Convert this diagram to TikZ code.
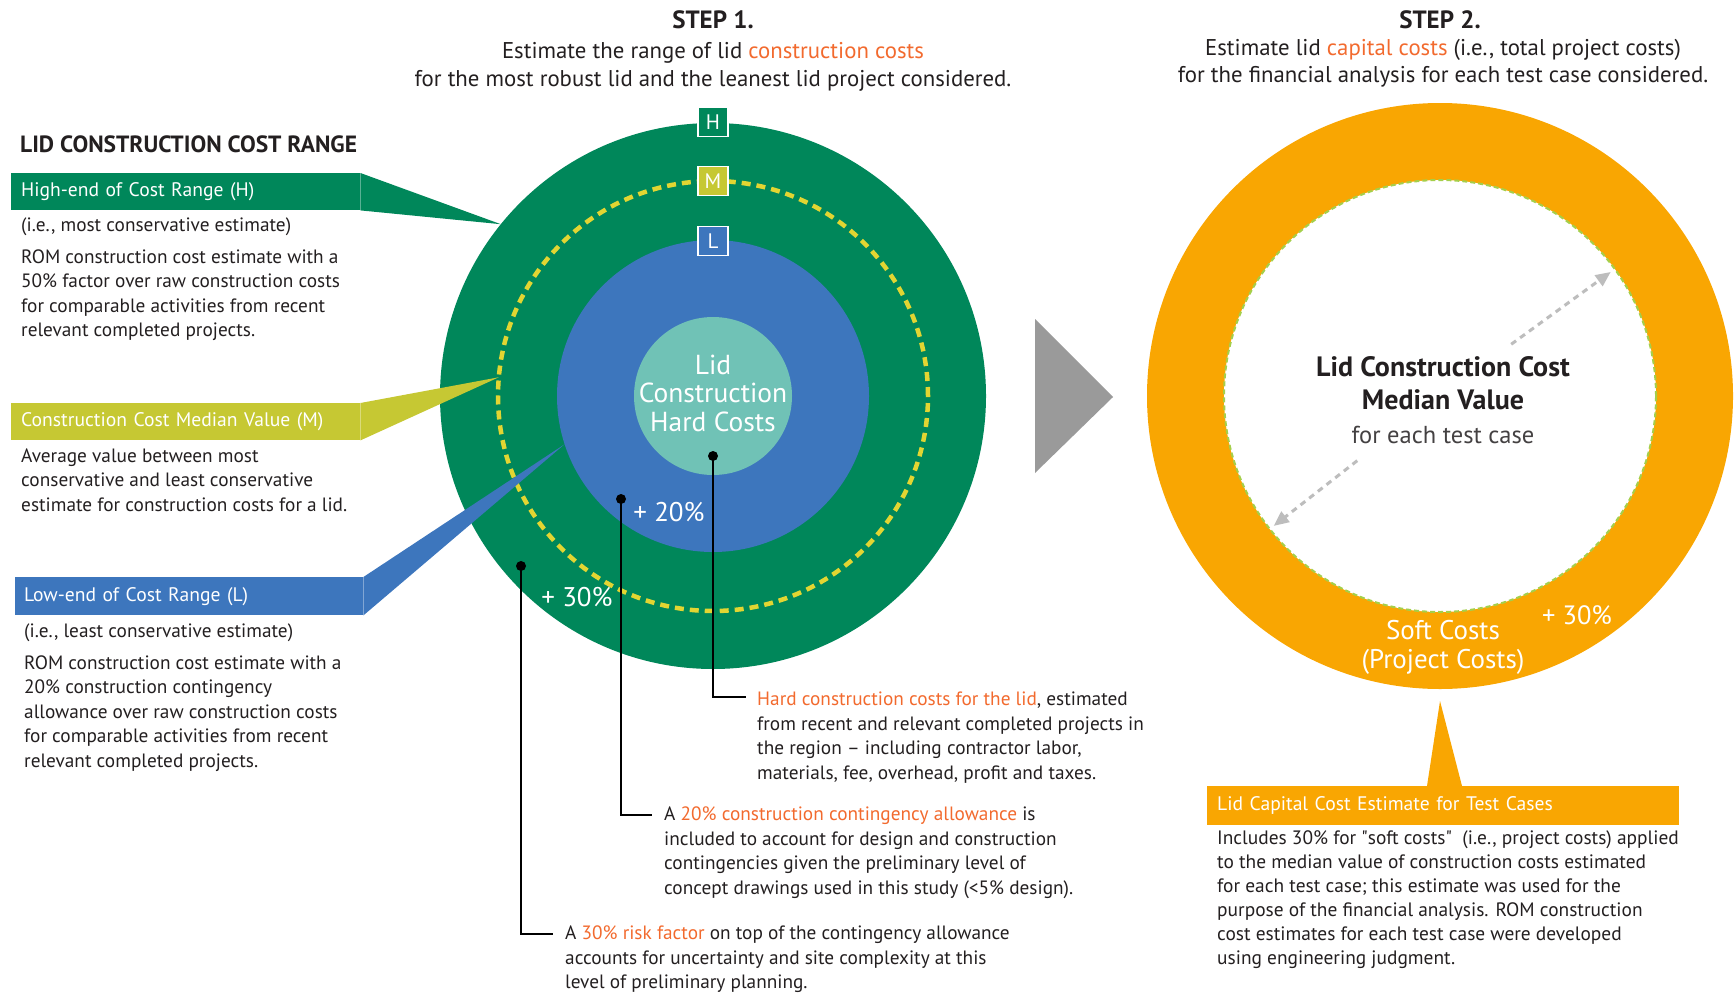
\documentclass[tikz,border=0pt]{standalone}
\usepackage{fontspec}
\setmainfont{PT Sans}
\usepackage{tikz}
\usetikzlibrary{shapes,arrows.meta}

\definecolor{hiGreen}{HTML}{00875A}
\definecolor{loBlue}{HTML}{3D76BD}
\definecolor{midLime}{HTML}{C6C833}
\definecolor{dashYellow}{HTML}{E2D532}
\definecolor{hardTeal}{HTML}{70C2B6}
\definecolor{softOrange}{HTML}{F9A602}
\definecolor{keyOrange}{HTML}{F26A2E}
\definecolor{arrowGray}{HTML}{9A9A9A}
\definecolor{gaugeGray}{HTML}{BDBDBD}
\definecolor{ringGreen}{HTML}{A5CF4A}
\definecolor{inkDark}{HTML}{231F20}

\newcommand{\hilite}[1]{\textcolor{keyOrange}{#1}}

\begin{document}
\begin{tikzpicture}[x=1pt,y=-1pt]
		\tikzstyle{ink}=[text=inkDark,inner sep=0pt]
		\tikzstyle{body}=[ink,align=left,anchor=north west,font=\fontsize{19.3}{24.4}\selectfont]
		\tikzstyle{banner}=[anchor=north west,minimum height=37pt,inner xsep=10pt,inner ysep=0pt,text width=329pt,align=left,text=white,font=\fontsize{19.6}{22}\selectfont]
		\tikzstyle{tag}=[draw=white,line width=1.3pt,minimum width=30pt,minimum height=29pt,inner sep=0pt,text=white,font=\fontsize{21}{21}\selectfont]
		\tikzstyle{ring}=[circle,inner sep=0pt,outer sep=0pt]
		\tikzstyle{dot}=[circle,fill=black,inner sep=0pt,minimum size=10pt]
		\tikzstyle{lead}=[line width=1.6pt]
		\tikzstyle{gauge}=[gaugeGray,line width=3pt,dash pattern=on 6pt off 5pt,-{Triangle[length=15pt,width=13pt]}]

		\useasboundingbox (0,0) rectangle (1734,993);

		% headings
		\node[ink,font=\fontsize{25}{25}\selectfont\bfseries] (step1) at (713,20) {STEP 1.};
		\node[ink,align=center,anchor=north,font=\fontsize{22.8}{28}\selectfont] (task1) at (713,42) {Estimate the range of lid \hilite{construction costs}\\for the most robust lid and the leanest lid project considered.};
		\node[ink,font=\fontsize{25}{25}\selectfont\bfseries] (step2) at (1440,20) {STEP 2.};
		\node[ink,align=center,anchor=north,font=\fontsize{22.8}{27}\selectfont] (task2) at (1443,39) {Estimate lid \hilite{capital costs} (i.e., total project costs)\\for the financial analysis for each test case considered.};

		% step 1 rings
		\node[ring,fill=hiGreen,minimum size=546pt] (high) at (713,396) {};
		\node[ring,draw=dashYellow,line width=4.5pt,dash pattern=on 9pt off 6pt,minimum size=430pt] (mid) at (713,396) {};
		\node[ring,fill=loBlue,minimum size=312pt] (low) at (713,396) {};
		\node[ring,fill=hardTeal,minimum size=158pt] (hard) at (713,396) {};
		\node[text=white,align=center,font=\fontsize{27.5}{28.5}\selectfont] (hardlbl) at (713,393) {Lid\\Construction\\Hard Costs};

		\node[tag,fill=hiGreen] (tagH) at (713,122) {H};
		\node[tag,fill=midLime] (tagM) at (713,181) {M};
		\node[tag,fill=loBlue] (tagL) at (713,241) {L};

		\node[text=white,font=\fontsize{27}{27}\selectfont] (pct20) at (669,512) {+ 20\%};
		\node[text=white,font=\fontsize{27}{27}\selectfont] (pct30) at (577,597) {+ 30\%};

		% cost range callouts
		\node[ink,anchor=base west,font=\fontsize{23.5}{23.5}\selectfont\bfseries] (range) at (20,152) {LID CONSTRUCTION COST RANGE};

		\node[banner,fill=hiGreen] (hband) at (11,173) {High-end of Cost Range (H)};
		\fill[hiGreen] (hband.north east) -- (high.141) -- (hband.south east) -- cycle;
		\node[body] (hnote) at (21,217.5) {(i.e., most conservative estimate)};
		\node[body] (hbody) at (21,249.5) {ROM construction cost estimate with a\\50\% factor over raw construction costs\\for comparable activities from recent\\relevant completed projects.};

		\node[banner,fill=midLime] (mband) at (11,403) {Construction Cost Median Value (M)};
		\fill[midLime] (mband.north east) -- (mid.175) -- (mband.south east) -- cycle;
		\node[body] (mbody) at (21,448.5) {Average value between most\\conservative and least conservative\\estimate for construction costs for a lid.};

		\node[banner,fill=loBlue,minimum height=38pt,inner xsep=9pt,text width=330pt] (lband) at (15,577) {Low-end of Cost Range (L)};
		\fill[loBlue] (lband.north east) -- (low.198) -- (lband.south east) -- cycle;
		\node[body] (lnote) at (24,623.5) {(i.e., least conservative estimate)};
		\node[body] (lbody) at (24,655.5) {ROM construction cost estimate with a\\20\% construction contingency\\allowance over raw construction costs\\for comparable activities from recent\\relevant completed projects.};

		% leaders to the notes below
		\node[dot] (d1) at (713,456) {};
		\node[dot] (d2) at (621,499) {};
		\node[dot] (d3) at (521,566) {};
		\coordinate (e1) at (746,697);
		\coordinate (e2) at (652,815);
		\coordinate (e3) at (553,934);
		\draw[lead] (d1.center) |- (e1);
		\draw[lead] (d2.center) |- (e2);
		\draw[lead] (d3.center) |- (e3);

		\node[body] (n1) at (757,692) {\hilite{Hard construction costs for the lid}, estimated\\from recent and relevant completed projects in\\the region -- including contractor labor,\\materials, fee, overhead, profit and taxes.};
		\node[body] (n2) at (664,807) {A \hilite{20\% construction contingency allowance} is\\included to account for design and construction\\contingencies given the preliminary level of\\concept drawings used in this study (<5\% design).};
		\node[body] (n3) at (565,926) {A \hilite{30\% risk factor} on top of the contingency allowance\\accounts for uncertainty and site complexity at this\\level of preliminary planning.};

		\fill[arrowGray] (1035,319) -- (1113,397) -- (1035,473) -- cycle;

		% step 2 ring
		\node[ring,fill=softOrange,minimum size=586pt] (soft) at (1440,396) {};
		\node[ring,fill=white,draw=ringGreen,line width=2pt,dash pattern=on 5pt off 3pt,minimum size=432pt] (median) at (1440,396) {};
		\draw[gauge] ([shift={(36:88pt)}]median.center) -- ([shift={(36:211pt)}]median.center);
		\draw[gauge] ([shift={(218:105pt)}]median.center) -- ([shift={(218:211pt)}]median.center);

		\node[ink,align=center,font=\fontsize{28}{33}\selectfont\bfseries] (medlbl) at (1443,383) {Lid Construction Cost\\Median Value};
		\node[ink,text=inkDark!85,font=\fontsize{24.5}{24.5}\selectfont] (eachcase) at (1443,435) {for each test case};
		\node[text=white,align=center,font=\fontsize{27}{29}\selectfont] (softlbl) at (1443,647) {Soft Costs\\(Project Costs)};
		\node[text=white,font=\fontsize{26.5}{26.5}\selectfont] (softpct) at (1577,615) {+ 30\%};

		\node[banner,fill=softOrange,minimum height=39pt,text width=452pt,font=\fontsize{19.6}{22}\selectfont] (capband) at (1207,786) {Lid Capital Cost Estimate for Test Cases};
		\fill[softOrange] ([xshift=220pt]capband.north west) -- ([yshift=-12pt]soft.south) -- ([xshift=255pt]capband.north west) -- cycle;
		\node[body,font=\fontsize{19.4}{24}\selectfont] (capbody) at (1217,830.5) {Includes 30\% for \textquotedbl soft costs\textquotedbl\ \ (i.e., project costs) applied\\to the median value of construction costs estimated\\for each test case; this estimate was used for the\\purpose of the financial analysis. ROM construction\\cost estimates for each test case were developed\\using engineering judgment.};

\end{tikzpicture}
\end{document}
